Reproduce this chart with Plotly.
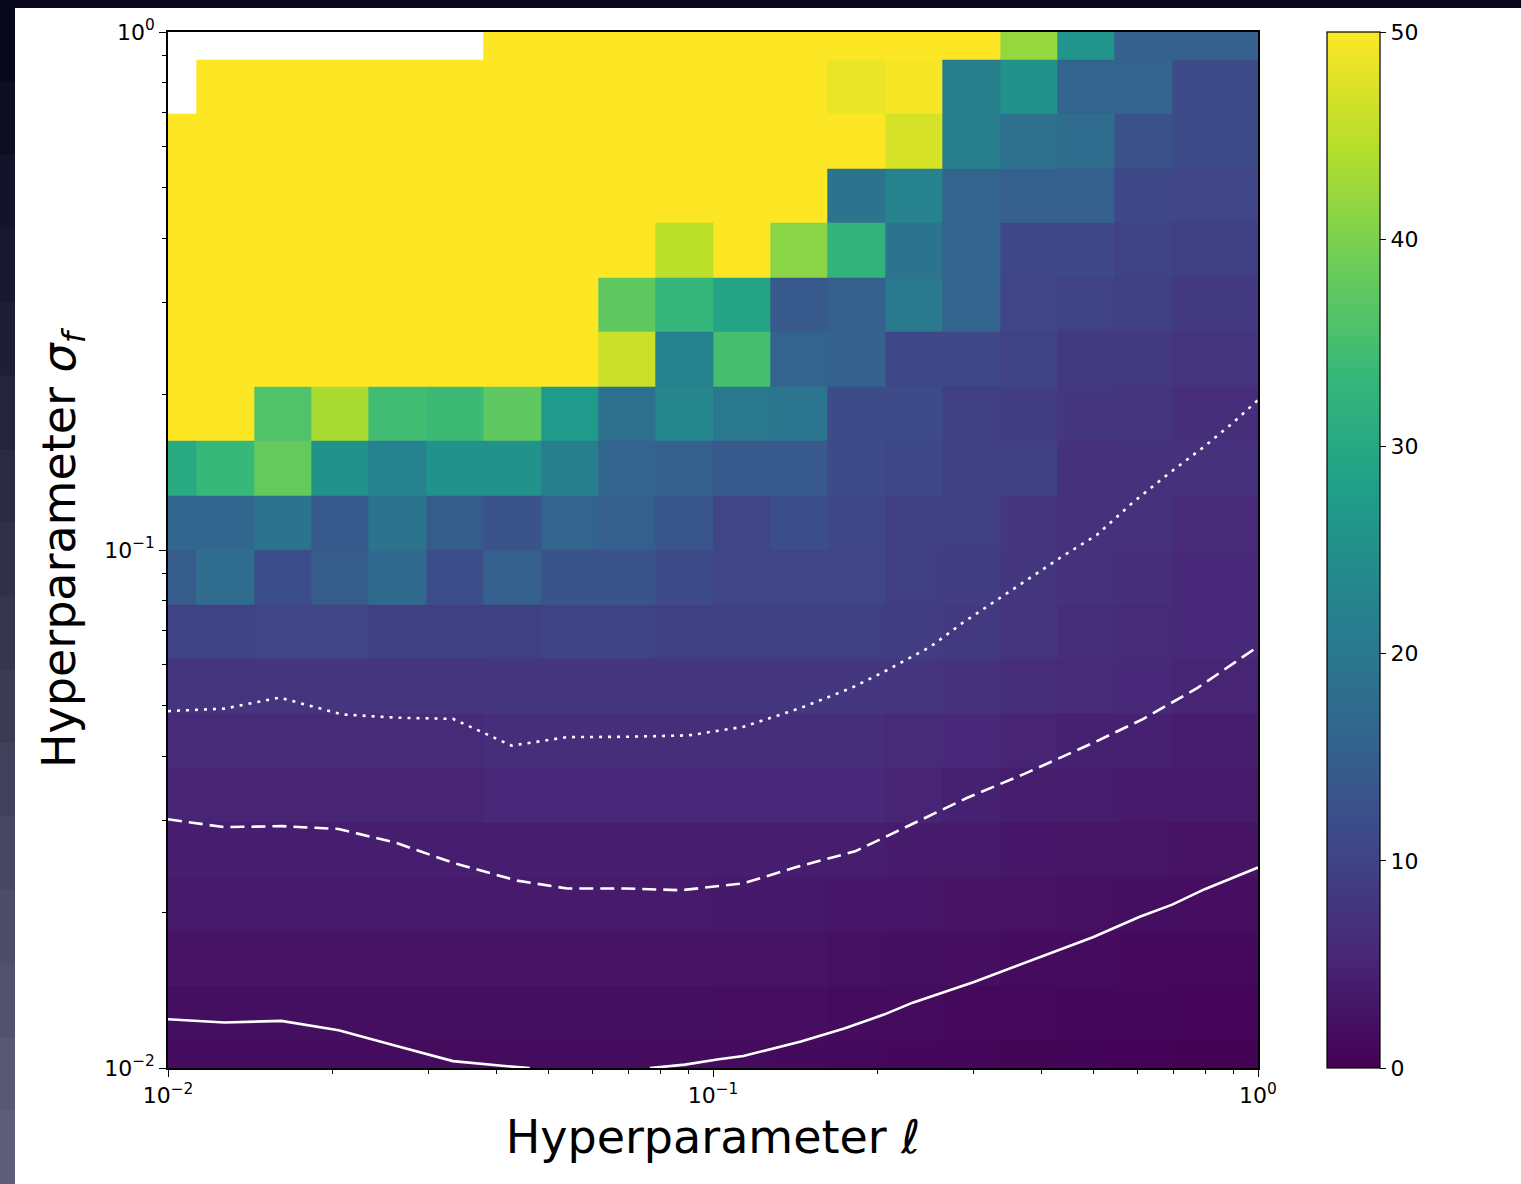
import plotly.graph_objects as go

# Grid centres (log-spaced) for the heatmap cells
ell = [0.01, 0.012743, 0.016238, 0.020691, 0.026367, 0.033598, 0.042813, 0.054556,
       0.069519, 0.088587, 0.11288, 0.14384, 0.18330, 0.23357, 0.29764, 0.37927,
       0.48329, 0.61585, 0.78476, 1.0]
sigma_f = list(ell)

N = None
# rows from bottom (sigma_f = 0.01) to top (sigma_f = 1)
row00 = [1.5, 1.5, 1.5, 1.5, 1.5, 1.5, 1.5, 1.5, 1.5, 1.5, 1.4, 1.3, 1.1, 0.9, 0.7, 0.5, 0.4, 0.3, 0.2, 0.2]
row01 = [2, 2, 2, 2, 2, 2, 2, 2, 2, 2, 1.9, 1.8, 1.6, 1.4, 1.2, 1.0, 0.9, 0.8, 0.7, 0.7]
row02 = [2.6, 2.6, 2.6, 2.6, 2.6, 2.6, 2.6, 2.6, 2.6, 2.6, 2.5, 2.4, 2.2, 2.0, 1.8, 1.6, 1.4, 1.3, 1.2, 1.2]
row03 = [3.5, 3.5, 3.5, 3.5, 3.5, 3.5, 3.5, 3.5, 3.5, 3.5, 3.4, 3.3, 3.1, 2.9, 2.6, 2.4, 2.2, 2.0, 1.8, 1.8]
row04 = [4.2, 4.2, 4.2, 4.2, 4.2, 4.2, 4.2, 4.2, 4.2, 4.2, 4.2, 4.2, 4.0, 3.8, 3.5, 3.2, 3.0, 2.8, 2.6, 2.6]
row05 = [5, 5, 5, 5, 5, 5, 5.5, 5.5, 5.5, 5.5, 5.5, 5.5, 5.5, 5, 4.5, 4, 4, 3.5, 3.5, 3.5]
row06 = [6, 6, 6, 6, 6, 6, 6.5, 6.5, 6.5, 6.5, 6.5, 6.5, 6.5, 6, 5.5, 5, 4.5, 4.5, 4, 4]
row07 = [7.5, 7.5, 7.5, 7.5, 7.5, 7.5, 8, 8, 8, 8, 8, 8, 8, 7.5, 7, 6.5, 6, 5.5, 5, 5]
row08 = [10, 10, 10.5, 10.5, 9.5, 9.5, 9.5, 10, 10, 9.5, 9.5, 9.5, 9.5, 9, 8.5, 7.5, 6.5, 6, 5.5, 5.5]
row09 = [14.5, 17.5, 12, 14.5, 17, 12, 15, 13, 13, 11.5, 10.5, 10.5, 10.5, 9.5, 9, 8, 7, 6.5, 5.5, 5.5]
row10 = [16.5, 16.5, 19, 14, 19, 14.5, 13, 16, 15, 13.5, 10.5, 12, 11, 9.5, 9.5, 8, 7, 7, 6, 6]
row11 = [30.5, 33.5, 38, 25.5, 22, 25.5, 25.5, 21.5, 16, 15, 14, 14, 11.5, 11, 9.5, 9.5, 7, 7, 7, 7]
row12 = [50, 50, 36, 43.5, 34.5, 34, 37.5, 27, 18.5, 23, 20, 19.5, 11.5, 11.5, 9.5, 9, 8, 7.5, 6.5, 6.5]
row13 = [50, 50, 50, 50, 50, 50, 50, 50, 46, 22, 35, 16, 15.5, 11, 11, 10, 8.5, 8.5, 7.5, 7.5]
row14 = [50, 50, 50, 50, 50, 50, 50, 50, 37.5, 33, 29, 14, 15, 20, 16, 10.5, 10, 9.5, 8.5, 8.5]
row15 = [50, 50, 50, 50, 50, 50, 50, 50, 50, 45, 50, 41, 32.5, 19, 16, 11, 11, 10, 9.5, 9.5]
row16 = [50, 50, 50, 50, 50, 50, 50, 50, 50, 50, 50, 50, 19, 22.5, 16, 15, 15, 11, 10.5, 10.5]
row17 = [50, 50, 50, 50, 50, 50, 50, 50, 50, 50, 50, 50, 50, 47, 21.5, 18.5, 17.5, 12.5, 11.5, 11.5]
row18 = [N, 50, 50, 50, 50, 50, 50, 50, 50, 50, 50, 50, 48.5, 49.5, 21.5, 25.5, 16, 16, 11.5, 11.5]
row19 = [N, N, N, N, N, N, 50, 50, 50, 50, 50, 50, 50, 50, 50, 42, 26, 15.5, 15.5, 15.5]
z = [row00, row01, row02, row03, row04, row05, row06, row07, row08, row09,
     row10, row11, row12, row13, row14, row15, row16, row17, row18, row19]

# White contour lines
solid_x = [0.01, 0.01269, 0.01614, 0.02056, 0.02617, 0.03333, 0.04371, 0.0461, None,
           0.0766, 0.08883, 0.1025, 0.1137, 0.1450, 0.1741, 0.2059, 0.2325, 0.3012,
           0.3963, 0.4978, 0.6068, 0.6960, 0.7984, 1.0]
solid_y = [0.01242, 0.01224, 0.01233, 0.01183, 0.01104, 0.01031, 0.01004, 0.0100, None,
           0.0100, 0.01015, 0.01040, 0.01055, 0.01125, 0.01192, 0.01268, 0.01337, 0.01466,
           0.01631, 0.01788, 0.01959, 0.02067, 0.02214, 0.02438]

dashed_x = [0.01, 0.01269, 0.01614, 0.02056, 0.02617, 0.03333, 0.04371, 0.0540, 0.0688,
            0.0875, 0.1137, 0.1428, 0.1823, 0.2221, 0.2921, 0.3727, 0.4978, 0.6161,
            0.7745, 1.0]
dashed_y = [0.03021, 0.02917, 0.02930, 0.02894, 0.02722, 0.02490, 0.02300, 0.02221, 0.02221,
            0.02204, 0.02273, 0.02445, 0.02620, 0.02894, 0.03320, 0.03696, 0.04240, 0.04720,
            0.05418, 0.06509]

dotted_x = [0.01, 0.01269, 0.01602, 0.02087, 0.02637, 0.03333, 0.04273, 0.0540, 0.0688,
            0.0902, 0.1137, 0.1450, 0.1795, 0.2090, 0.2508, 0.2877, 0.3616, 0.4342,
            0.5055, 0.5887, 0.6855, 0.7984, 0.9016, 1.0]
dotted_y = [0.04887, 0.04940, 0.05189, 0.04814, 0.04745, 0.04720, 0.04191, 0.04353, 0.04359,
            0.04386, 0.04557, 0.04956, 0.05418, 0.05867, 0.06509, 0.07244, 0.08505, 0.09672,
            0.1068, 0.1234, 0.1404, 0.1586, 0.1764, 0.1948]

major_ticks = [0.01, 0.1, 1]
major_text = ['10<sup>\u22122</sup>', '10<sup>\u22121</sup>', '10<sup>0</sup>']
minor_ticks = [0.02, 0.03, 0.04, 0.05, 0.06, 0.07, 0.08, 0.09,
               0.2, 0.3, 0.4, 0.5, 0.6, 0.7, 0.8, 0.9]
cbar_ticks = [0, 10, 20, 30, 40, 50]

FONT = 'DejaVu Sans'

fig = go.Figure()
fig.add_trace(go.Heatmap(
    x=ell, y=sigma_f, z=z, colorscale='Viridis', zmin=0, zmax=50,
    hoverongaps=False,
    colorbar=dict(
        x=(1327 - 168) / 1090, xanchor='left', xpad=0, ypad=0,
        y=0.5, yanchor='middle', len=1, lenmode='fraction',
        thickness=53, thicknessmode='pixels',
        outlinewidth=1.2, outlinecolor='black',
        ticks='outside', ticklen=6, tickwidth=1.3, tickcolor='black',
        tickvals=cbar_ticks, tickfont=dict(family=FONT, size=22, color='black'),
    ),
))

line_styles = [
    (solid_x, solid_y, 'solid'),
    (dashed_x, dashed_y, '14px,7px'),
    (dotted_x, dotted_y, '3px,6px'),
]
for xs, ys, dash in line_styles:
    fig.add_trace(go.Scatter(
        x=xs, y=ys, mode='lines', connectgaps=False,
        line=dict(color='white', width=2.6, dash=dash),
        showlegend=False, hoverinfo='skip',
    ))

axis_common = dict(
    type='log', range=[-2, 0], showgrid=False, zeroline=False,
    showline=True, linecolor='black', linewidth=1.5, mirror=True,
    ticks='outside', ticklen=7, tickwidth=1.4, tickcolor='black',
    tickmode='array', tickvals=major_ticks, ticktext=major_text,
    tickfont=dict(family=FONT, size=22, color='black'),
    minor=dict(ticks='outside', ticklen=4, tickwidth=1, tickcolor='black',
               tickmode='array', tickvals=minor_ticks, showgrid=False),
)

fig.update_layout(
    width=1521, height=1184,
    margin=dict(l=168, r=263, t=32, b=116, autoexpand=False),
    paper_bgcolor='#07061a', plot_bgcolor='white',
    font=dict(family=FONT, color='black'),
    xaxis=dict(axis_common, title=dict(text='Hyperparameter <i>\u2113</i>',
                                       font=dict(family=FONT, size=46), standoff=14)),
    yaxis=dict(axis_common, title=dict(text='Hyperparameter <i>\u03c3</i><sub><i>f</i></sub>',
                                       font=dict(family=FONT, size=46), standoff=14)),
)

# figure frame: white page with a dark border on top and a gradient band on the left
W, H = 1090.0, 1036.0
def px_x(p):
    return (p - 168) / W
def px_y(p):
    return (1068 - p) / H

shapes = [dict(type='rect', xref='paper', yref='paper', layer='below',
               x0=px_x(15), x1=px_x(1530), y0=px_y(1190), y1=px_y(8),
               fillcolor='white', line=dict(width=0))]
nseg = 16
c0 = (8, 7, 28)
c1 = (95, 94, 122)
for k in range(nseg):
    t = k / (nseg - 1)
    col = 'rgb(%d,%d,%d)' % tuple(int(round(a + (b - a) * t)) for a, b in zip(c0, c1))
    ytop = 8 + (1184 - 8) * k / nseg
    ybot = 8 + (1184 - 8) * (k + 1) / nseg
    shapes.append(dict(type='rect', xref='paper', yref='paper', layer='below',
                       x0=px_x(-5), x1=px_x(15), y0=px_y(ybot + 1), y1=px_y(ytop),
                       fillcolor=col, line=dict(width=0)))
fig.update_layout(shapes=shapes)

fig.write_html('out.html',
               config={'displayModeBar': False},
               post_script="document.body.style.margin='0px';document.body.style.padding='0px';")
